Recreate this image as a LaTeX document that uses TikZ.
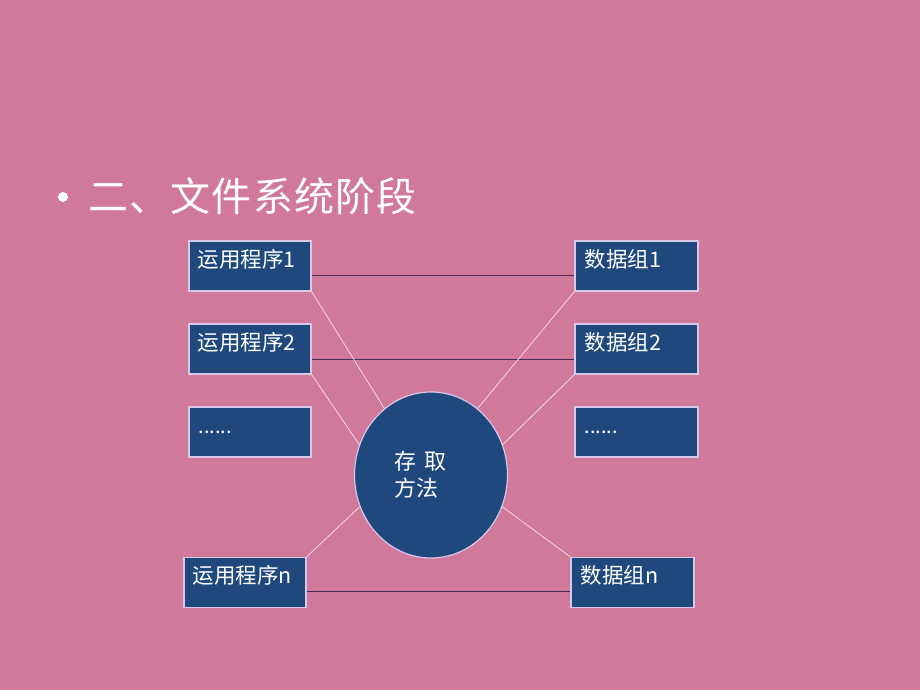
\documentclass[tikz,border=0pt]{standalone}
\usepackage{fontspec}
\newfontfamily\cjk{Noto Sans CJK SC}
\usetikzlibrary{shapes.geometric}

\definecolor{slidebg}{RGB}{209,121,155}
\definecolor{boxblue}{RGB}{31,73,125}
\definecolor{boxedge}{RGB}{214,200,232}
\definecolor{linkdark}{RGB}{72,42,88}
\definecolor{linklight}{RGB}{242,214,228}

\tikzset{
  box/.style={rectangle,fill=boxblue,draw=boxedge,line width=1.2pt,
    minimum width=122,minimum height=50,inner sep=0pt},
  boxtext/.style={anchor=north west,inner sep=0pt,color=white,
    font=\cjk\fontsize{21.5}{24}\selectfont},
  dotstext/.style={anchor=base west,inner sep=0pt,color=white,
    font=\cjk\fontsize{20}{22}\selectfont},
  linkline/.style={color=linkdark,line width=1pt},
  spoke/.style={color=linklight,line width=0.8pt}
}

\begin{document}
\begin{tikzpicture}[x=1pt,y=-1pt]
  \fill[slidebg] (0,0) rectangle (920,690);
  \useasboundingbox (0,0) rectangle (920,690);

  % title
  \fill[white] (63,197) circle (5);
  \node[anchor=west,inner sep=0pt,color=white,font=\cjk\fontsize{40}{44}\selectfont]
    (title) at (88,196) {\addfontfeature{LetterSpace=3}二、文件系统阶段};

  % programs
  \node[box] (p1) at (250,266) {};
  \node[box] (p2) at (250,349) {};
  \node[box] (p3) at (250,432) {};
  \node[box] (pn) at (245,582.5) {};
  \node[boxtext] (p1t) at ([shift={(9,9)}]p1.north west) {运用程序1};
  \node[boxtext] (p2t) at ([shift={(9,9)}]p2.north west) {运用程序2};
  \node[dotstext] (p3t) at ([shift={(10,27)}]p3.north west) {......};
  \node[boxtext] (pnt) at ([shift={(9,8)}]pn.north west) {运用程序n};

  % data groups
  \node[box,minimum width=123] (d1) at (636.5,266) {};
  \node[box,minimum width=123] (d2) at (636.5,349) {};
  \node[box,minimum width=123] (d3) at (636.5,432) {};
  \node[box,minimum width=123] (dn) at (632.5,582.5) {};
  \node[boxtext] (d1t) at ([shift={(10,9)}]d1.north west) {数据组1};
  \node[boxtext] (d2t) at ([shift={(10,9)}]d2.north west) {数据组2};
  \node[dotstext] (d3t) at ([shift={(10,27)}]d3.north west) {......};
  \node[boxtext] (dnt) at ([shift={(10,8)}]dn.north west) {数据组n};

  % access method
  \node[ellipse,fill=boxblue,draw=boxedge,line width=1.2pt,
    minimum width=153,minimum height=166,inner sep=0pt] (cq) at (431,475) {};
  \node[anchor=north west,align=left,inner sep=0pt,color=white,
    font=\cjk\fontsize{22}{27}\selectfont]
    (cqt) at (394,451) {存\hspace{8pt}取\\方法};

  \draw[linkline] ([yshift=-9]p1.east) -- ([yshift=-9]d1.west);
  \draw[linkline] ([yshift=-10]p2.east) -- ([yshift=-10]d2.west);
  \draw[linkline] ([yshift=-9]pn.east) -- ([yshift=-9]dn.west);

  \draw[spoke] (p1.south east) -- (cq.125);
  \draw[spoke] (p2.south east) -- (cq.157);
  \draw[spoke] (pn.north east) -- (cq.204);
  \draw[spoke] (d1.south west) -- (cq.55);
  \draw[spoke] (d2.south west) -- (cq.23);
  \draw[spoke] (dn.north west) -- (cq.336);
\end{tikzpicture}
\end{document}
